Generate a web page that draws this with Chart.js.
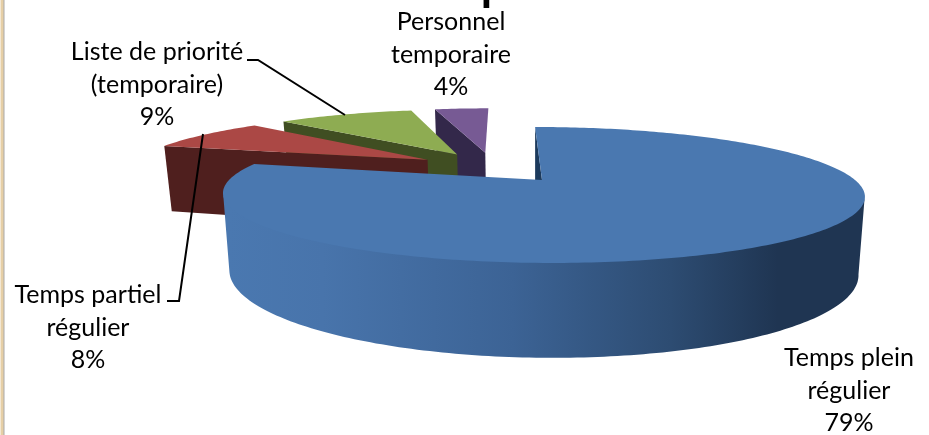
<!DOCTYPE html>
<html>
<head>
<meta charset="utf-8">
<title>Les statuts du personnel</title>
<script src="https://cdn.jsdelivr.net/npm/chart.js@4"></script>
<style>
  html, body { margin: 0; padding: 0; background: #fff; overflow: hidden; }
  #wrap { position: relative; width: 929px; height: 435px; }
  #wrap::before { content: ""; position: absolute; left: 0; top: 0; bottom: 0; width: 5px; z-index: 1;
    background: linear-gradient(to right, #fff 0, #e6cfa6 1px, #e6cfa6 3px, #a9a9a9 4px, #fff 5px); }
</style>
</head>
<body>
<div id="wrap"><canvas id="pie-chart" width="929" height="435"></canvas></div>
<script>
const titleText = "Les statuts du personnel";
const categories = ["Temps plein régulier", "Temps partiel régulier", "Liste de priorité (temporaire)", "Personnel temporaire"];
const values = [79.2, 8.1, 9.1, 3.6];

const topColors = ["#4a78b0", "#ab4845", "#8eac52", "#775a94"];
const wallColors = ["#1c3a5c", "#4f1f1e", "#404e22", "#33284a"];

// label lines and where they sit, one entry per category
const labelLines = [["Temps plein", "régulier"], ["Temps partiel", "régulier"], ["Liste de priorité", "(temporaire)"], ["Personnel", "temporaire"]];
const labelX = [849, 88, 157, 451];
const labelY = [358, 295, 52, 22];
const lineGap = 32.5;

const leaders = [
  [[167, 301], [179, 301], [203, 134]],
  [[247, 60], [258, 60], [345, 115]],
];

// fake 3d view of the pie, camU is where the camera sits sideways
const view = { cx: 542, cy: 180, rx: 313, ry: 64.7, k: 0.22, depth: 74, shrink: 0.02, skew: 0.13, camU: -0.3 };

function project(u, v, z) {
  const w = 1 / (1 - view.k * v);
  const top = view.cy + view.ry * v * w;
  const x = view.cx + view.rx * u * w * (1 - z * view.shrink) + view.skew * (top - view.cy);
  return [x, top + z * view.depth * w];
}

function fillPoly(ctx, pts, color) {
  ctx.beginPath();
  pts.forEach((p, i) => (i ? ctx.lineTo(p[0], p[1]) : ctx.moveTo(p[0], p[1])));
  ctx.closePath();
  ctx.fillStyle = color;
  ctx.fill();
}

// cut face of a slice, skipped when it looks away from the camera
function drawWall(ctx, cu, cv, angle, side, color) {
  const nu = Math.cos(angle + (side * Math.PI) / 2);
  const nv = Math.sin(angle + (side * Math.PI) / 2);
  if ((view.camU - cu) * nu + (1 / view.k - cv) * nv <= 0) return;
  const u = cu + Math.cos(angle);
  const v = cv + Math.sin(angle);
  fillPoly(ctx, [project(cu, cv, 0), project(u, v, 0), project(u, v, 1), project(cu, cv, 1)], color);
}

const pie3d = {
  id: "pie3d",
  beforeDatasetsDraw(chart) {
    const ctx = chart.ctx;
    const arcs = chart.getDatasetMeta(0).data;
    const e = arcs[0].options.offset / arcs[0].outerRadius;
    const mid0 = (arcs[0].startAngle + arcs[0].endAngle) / 2;

    // back slices first, the big one goes on top
    [3, 2, 1, 0].forEach((i) => {
      const arc = arcs[i];
      const mid = (arc.startAngle + arc.endAngle) / 2;
      const cu = e * (Math.cos(mid) - Math.cos(mid0));
      const cv = e * (Math.sin(mid) - Math.sin(mid0));
      const rimTop = [];
      const rimBottom = [];
      const front = [];
      const steps = Math.ceil(((arc.endAngle - arc.startAngle) * 180) / Math.PI);
      for (let s = 0; s <= steps; s++) {
        const a = arc.startAngle + ((arc.endAngle - arc.startAngle) * s) / steps;
        const u = cu + Math.cos(a);
        const v = cv + Math.sin(a);
        rimTop.push(project(u, v, 0));
        const facing = -u * Math.cos(a) + (1 / view.k - v) * Math.sin(a) > 0;
        if (facing) {
          const p = project(u, v, 0);
          // tuck the rim under the top face so no seam shows
          front.push([p[0], p[1] - 2]);
          rimBottom.push(project(u, v, 1));
        }
      }
      drawWall(ctx, cu, cv, arc.startAngle, -1, wallColors[i]);
      drawWall(ctx, cu, cv, arc.endAngle, 1, wallColors[i]);
      // outer rim
      if (front.length > 1) {
        let fill = wallColors[i];
        if (i === 0) {
          fill = ctx.createLinearGradient(228, 0, 860, 0);
          fill.addColorStop(0, "#4a78b0");
          fill.addColorStop(0.15, "#4874ab");
          fill.addColorStop(0.45, "#3c6395");
          fill.addColorStop(0.7, "#2d4c72");
          fill.addColorStop(0.87, "#1f3552");
          fill.addColorStop(1, "#1f3552");
        }
        fillPoly(ctx, front.concat(rimBottom.reverse()), fill);
      }
      // top face
      fillPoly(ctx, [project(cu, cv, 0)].concat(rimTop), topColors[i]);
    });
    return false;
  },
  afterDraw(chart) {
    const ctx = chart.ctx;
    ctx.save();
    ctx.strokeStyle = "#000";
    ctx.lineWidth = 2;
    leaders.forEach((pts) => {
      ctx.beginPath();
      pts.forEach((p, i) => (i ? ctx.lineTo(p[0], p[1]) : ctx.moveTo(p[0], p[1])));
      ctx.stroke();
    });
    ctx.fillStyle = "#000";
    ctx.textAlign = "center";
    ctx.textBaseline = "middle";
    ctx.font = "25px Lato";
    categories.forEach((c, i) => {
      const lines = labelLines[i].concat(Math.round(values[i]) + "%");
      lines.forEach((l, j) => ctx.fillText(l, labelX[i], labelY[i] + j * lineGap));
    });
    // title is cut by the top of the picture
    ctx.textAlign = "left";
    ctx.textBaseline = "alphabetic";
    ctx.font = "bold 46px Lato";
    ctx.letterSpacing = "5px";
    ctx.fillText(titleText, 112, 0);
    ctx.restore();
  },
};

new Chart(document.getElementById("pie-chart"), {
  type: "pie",
  data: {
    labels: categories,
    datasets: [
      {
        data: values,
        backgroundColor: topColors,
        borderWidth: 0,
        offset: 50,
      },
    ],
  },
  options: {
    responsive: false,
    animation: false,
    plugins: {
      legend: { display: false },
      title: { display: false },
      tooltip: { enabled: false },
    },
  },
  plugins: [pie3d],
});
</script>
</body>
</html>
